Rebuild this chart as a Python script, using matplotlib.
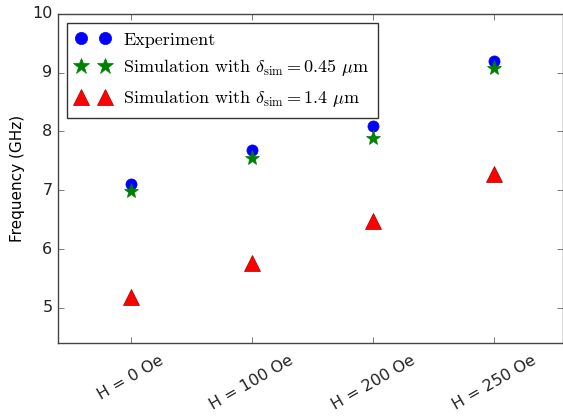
import matplotlib
matplotlib.use("Agg")
import matplotlib.pyplot as plt

plt.style.use('classic')
plt.rcParams['mathtext.fontset'] = 'cm'
plt.rcParams['font.family'] = ['DejaVu Sans']

categories = ["H = 0 Oe", "H = 100 Oe", "H = 200 Oe", "H = 250 Oe"]
experiment = [7.11, 7.69, 8.09, 9.2]
sim_045 = [6.98, 7.55, 7.89, 9.08]
sim_14 = [5.19, 5.77, 6.47, 7.28]
yticks = [5, 6, 7, 8, 9, 10]

fig = plt.figure(figsize=(5.63, 4.19), dpi=100)
ax = fig.add_axes([0.103, 0.181, 0.897, 0.786])
x = list(range(len(categories)))

ax.plot(x, experiment, 'o', color='b', mec='b', ms=8, ls='none', label='Experiment')
ax.plot(x, sim_045, '*', color='g', mec='g', ms=11, ls='none',
        label=r'Simulation with $\delta_{\rm sim}=0.45\ \mu$m')
ax.plot(x, sim_14, '^', color='r', mec='#a00000', ms=11, ls='none',
        label=r'Simulation with $\delta_{\rm sim}=1.4\ \mu$m')

ax.set_xlim(-0.6, 3.57)
ax.set_ylim(4.4, 10)
ax.set_xticks(x)
ax.set_xticklabels(categories, rotation=30, fontsize=11.5)
ax.set_yticks(yticks)
ax.set_yticklabels([str(v) for v in yticks], fontsize=11.5)
ax.set_ylabel('Frequency (GHz)', fontsize=11)
for s in ax.spines.values():
    s.set_color('#444444')
ax.tick_params(colors='#444444', labelcolor='#222222')
ax.tick_params(axis='x', pad=7)

leg = ax.legend(loc='upper left', numpoints=2, fancybox=False,
                prop={'family': 'cmr10', 'size': 13},
                borderaxespad=0.5, handletextpad=0.7, labelspacing=0.55,
                borderpad=0.5, handlelength=1.9, markerscale=1.1)
leg.get_frame().set_edgecolor('#333333')

fig.savefig('out.png', dpi=100)
